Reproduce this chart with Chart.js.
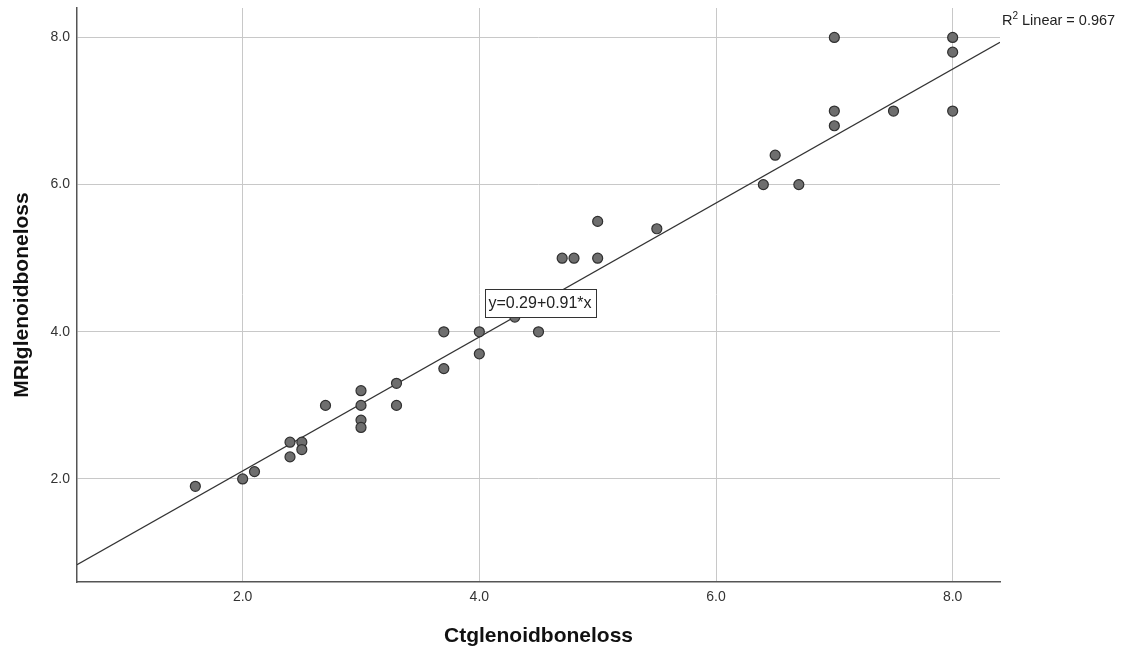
<!DOCTYPE html>
<html>
<head>
<meta charset="utf-8">
<script src="https://cdn.jsdelivr.net/npm/chart.js@4"></script>
<style>
  html, body { margin: 0; padding: 0; background: #fff; }
  #wrap { width: 1121px; height: 653px; }
</style>
</head>
<body>
<div id="wrap"><canvas id="scatter"></canvas></div>
<script>
const ctValues = [1.6, 2.0, 2.1, 2.4, 2.4, 2.5, 2.5, 2.7, 3.0, 3.0, 3.0, 3.0, 3.3, 3.3, 3.7, 3.7, 4.0, 4.0, 4.3, 4.5, 4.7, 4.8, 5.0, 5.0, 5.5, 6.4, 6.5, 6.7, 7.0, 7.0, 7.0, 7.5, 8.0, 8.0, 8.0];
const mriValues = [1.9, 2.0, 2.1, 2.5, 2.3, 2.5, 2.4, 3.0, 3.2, 3.0, 2.8, 2.7, 3.3, 3.0, 4.0, 3.5, 4.0, 3.7, 4.2, 4.0, 5.0, 5.0, 5.5, 5.0, 5.4, 6.0, 6.4, 6.0, 8.0, 7.0, 6.8, 7.0, 8.0, 7.8, 7.0];
const tickValues = [2, 4, 6, 8];
const fitIntercept = 0.29;
const fitSlope = 0.91;
const rSquared = 0.967;

const xMin = 0.6, xMax = 8.4, yMin = 0.6, yMax = 8.4;
const FONT = "'Liberation Sans', Arial, sans-serif";

const points = ctValues.map((x, i) => ({ x: x, y: mriValues[i] }));
const fitLine = [xMin, xMax].map(x => ({ x: x, y: fitIntercept + fitSlope * x }));

const annotations = {
  id: "annotations",
  afterDatasetsDraw(chart) {
    const { ctx, scales } = chart;
    ctx.save();
    // equation box
    const label = "y=" + fitIntercept.toFixed(2) + "+" + fitSlope.toFixed(2) + "*x";
    ctx.font = "16px " + FONT;
    const w = Math.round(ctx.measureText(label).width + 8);
    const cx = Math.round(scales.x.getPixelForValue(4.51));
    const cy = Math.round(scales.y.getPixelForValue(4.39));
    const h = 28;
    ctx.fillStyle = "#fff";
    ctx.fillRect(cx - w / 2, cy - h / 2, w, h);
    ctx.strokeStyle = "#333";
    ctx.lineWidth = 1;
    ctx.strokeRect(Math.round(cx - w / 2) + 0.5, cy - h / 2 + 0.5, w, h);
    ctx.fillStyle = "#222";
    ctx.textAlign = "center";
    ctx.textBaseline = "middle";
    ctx.fillText(label, cx, cy + 1);
    // R squared
    ctx.textAlign = "left";
    ctx.textBaseline = "alphabetic";
    let tx = chart.chartArea.right + 2;
    const ty = 25;
    ctx.font = "14.5px " + FONT;
    ctx.fillText("R", tx, ty);
    tx += ctx.measureText("R").width;
    ctx.font = "10px " + FONT;
    ctx.fillText("2", tx, ty - 6);
    tx += ctx.measureText("2").width + 4;
    ctx.font = "14.5px " + FONT;
    ctx.fillText("Linear = " + rSquared.toFixed(3), tx, ty);
    ctx.restore();
  }
};

new Chart(document.getElementById("scatter"), {
  type: "scatter",
  data: {
    datasets: [
      {
        label: "Fit",
        type: "line",
        data: fitLine,
        borderColor: "#333",
        borderWidth: 1.3,
        pointRadius: 0,
        fill: false,
        order: 2,
      },
      {
        label: "Cases",
        data: points,
        backgroundColor: "#6e6e6e",
        borderColor: "#303030",
        borderWidth: 1.2,
        pointRadius: 5,
        order: 1,
      },
    ],
  },
  options: {
    responsive: true,
    maintainAspectRatio: false,
    animation: false,
    layout: { padding: { top: 8, right: 121, left: 0, bottom: 0 } },
    plugins: { legend: { display: false }, tooltip: { enabled: false } },
    scales: {
      x: {
        type: "linear",
        min: xMin,
        max: xMax,
        afterBuildTicks: s => { s.ticks = tickValues.map(v => ({ value: v })); },
        afterFit: s => { s.height = 71; s.paddingLeft = 0; s.paddingRight = 0; },
        ticks: { color: "#333", font: { family: FONT, size: 14 }, padding: 7, callback: v => v.toFixed(1) },
        grid: { color: "#c8c8c8", lineWidth: 1, drawTicks: false },
        border: { color: "#555", width: 1.5 },
        title: { display: true, text: "Ctglenoidboneloss", color: "#111", font: { family: FONT, size: 21, weight: "bold" }, padding: { top: 0, bottom: 4 } },
      },
      y: {
        type: "linear",
        min: yMin,
        max: yMax,
        afterBuildTicks: s => { s.ticks = tickValues.map(v => ({ value: v })); },
        afterFit: s => { s.width = 77; s.paddingTop = 0; s.paddingBottom = 0; },
        ticks: { color: "#333", font: { family: FONT, size: 14 }, padding: 7, callback: v => v.toFixed(1) },
        grid: { color: "#c8c8c8", lineWidth: 1, drawTicks: false },
        border: { color: "#555", width: 1.5 },
        title: { display: true, text: "MRIglenoidboneloss", color: "#111", font: { family: FONT, size: 21, weight: "bold" }, padding: { top: 10, bottom: 0 } },
      },
    },
  },
  plugins: [annotations],
});
</script>
</body>
</html>
